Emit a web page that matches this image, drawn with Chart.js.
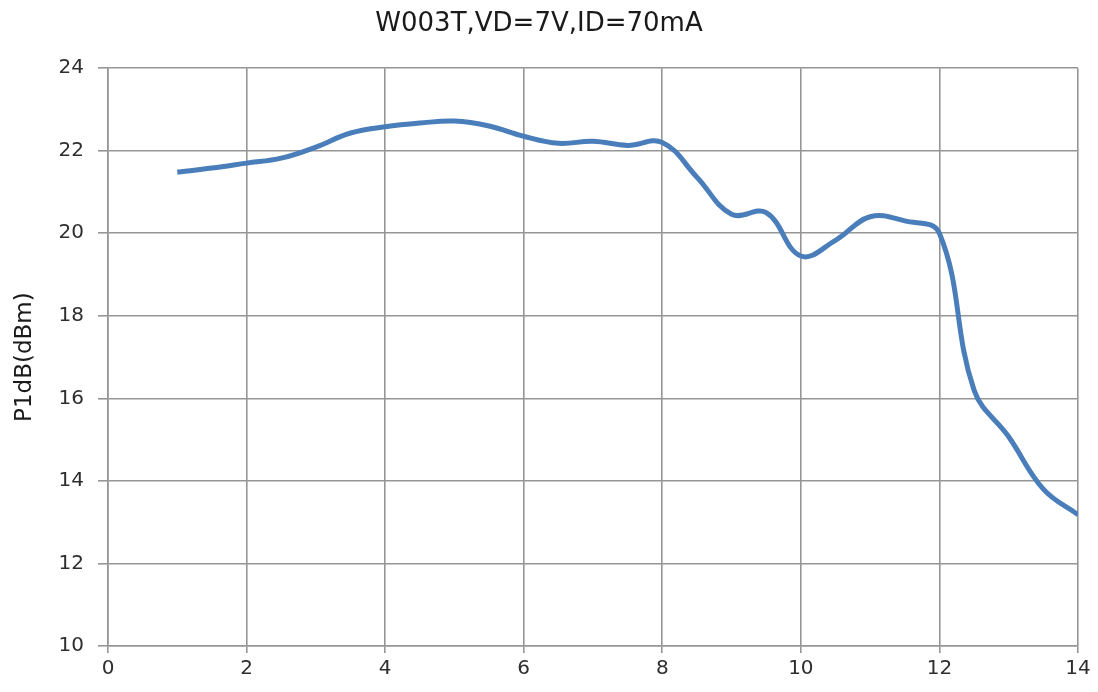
<!DOCTYPE html>
<html>
<head>
<meta charset="utf-8">
<script src="https://cdn.jsdelivr.net/npm/chart.js@4"></script>
<style>
html,body{margin:0;padding:0;background:#fff;}
#wrap{width:1098px;height:692px;}
</style>
</head>
<body>
<div id="wrap"><canvas id="c" width="1098" height="692"></canvas></div>
<script>
const chartTitle = "W003T,VD=7V,ID=70mA";
const yAxisTitle = "P1dB(dBm)";
const freqGHz = [1, 1.5, 2, 2.5, 3, 3.5, 4, 4.5, 5, 5.5, 6, 6.5, 7, 7.5, 8, 8.5, 9, 9.5, 10, 10.5, 11, 11.5, 12, 12.5, 13, 13.5, 14];
const p1dB =    [21.48, 21.58, 21.7, 21.82, 22.09, 22.43, 22.58, 22.67, 22.72, 22.6, 22.35, 22.18, 22.23, 22.13, 22.2, 21.36, 20.46, 20.5, 19.45, 19.83, 20.4, 20.3, 20.0, 16.2, 15.07, 13.8, 13.18];
const xTicks = [0, 2, 4, 6, 8, 10, 12, 14];
const yTicks = [10, 12, 14, 16, 18, 20, 22, 24];

const points = freqGHz.map((f, i) => ({x: f, y: p1dB[i]}));
const gridColor = '#969696';
const textColor = '#2e2e2e';

new Chart(document.getElementById('c'), {
  type: 'line',
  data: {
    datasets: [{
      data: points,
      borderColor: '#4a7ebb',
      borderWidth: 5,
      pointRadius: 0,
      tension: 0.4,
      fill: false
    }]
  },
  options: {
    responsive: false,
    animation: false,
    layout: {padding: {left: 0, right: 20, top: 0, bottom: 0}},
    plugins: {
      legend: {display: false},
      tooltip: {enabled: false},
      title: {
        display: true,
        text: chartTitle,
        color: '#1a1a1a',
        font: {family: 'DejaVu Sans', size: 26, weight: 'normal', lineHeight: 1.2},
        padding: {top: 9, bottom: 28}
      }
    },
    scales: {
      x: {
        type: 'linear',
        min: 0, max: 14,
        afterBuildTicks: s => { s.ticks = xTicks.map(v => ({value: v})); },
        afterFit: s => { s.height = 46; },
        grid: {color: gridColor, lineWidth: 1.6, tickLength: 7, drawTicks: true},
        border: {color: gridColor, width: 1.6},
        ticks: {color: textColor, font: {family: 'DejaVu Sans', size: 20}, padding: 4, maxRotation: 0}
      },
      y: {
        type: 'linear',
        min: 10, max: 24,
        afterBuildTicks: s => { s.ticks = yTicks.map(v => ({value: v})); },
        afterFit: s => { s.width = 108; },
        grid: {color: gridColor, lineWidth: 1.6, tickLength: 10},
        border: {color: gridColor, width: 1.6},
        ticks: {color: textColor, font: {family: 'DejaVu Sans', size: 20}, padding: 14},
        title: {
          display: true,
          text: yAxisTitle,
          color: '#1a1a1a',
          font: {family: 'DejaVu Sans', size: 23},
          padding: {top: 11, bottom: 0}
        }
      }
    }
  }
});
</script>
</body>
</html>
